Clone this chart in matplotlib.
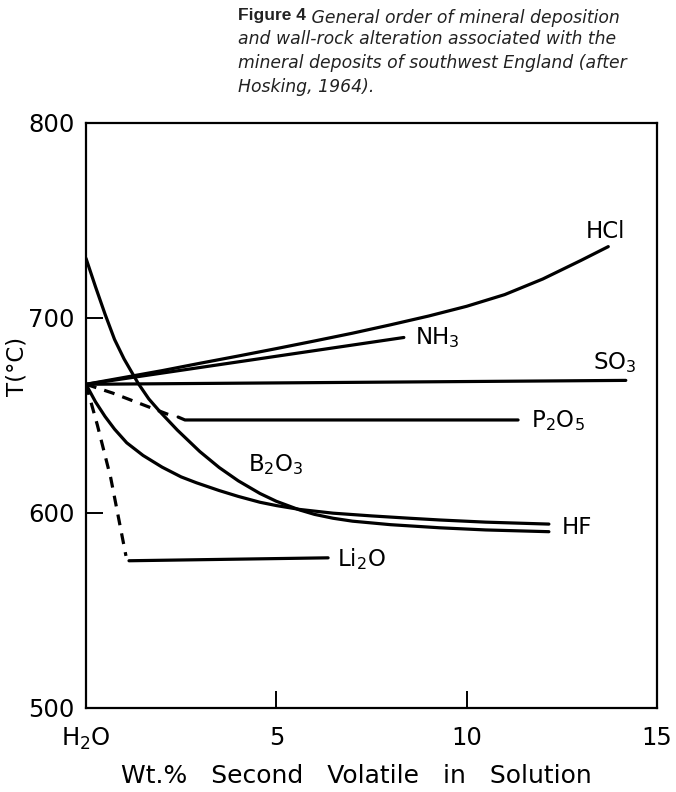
import matplotlib
matplotlib.use("Agg")
import matplotlib.pyplot as plt

plt.rcParams['font.family'] = ['DejaVu Sans']
plt.rcParams['mathtext.default'] = 'regular'

# ---- data ----
hcl_x = [0, 1, 2, 3, 4, 5, 6, 7, 8, 9, 10, 11, 12, 13, 13.72]
hcl_y = [666, 669.5, 673, 676.8, 680.5, 684.3, 688.2, 692.2, 696.5, 701, 706, 712, 720, 729.5, 736.6]

nh3_x = [0, 8.35]
nh3_y = [666, 690]

so3_x = [0, 14.18]
so3_y = [666, 668]

p2o5_dash_x = [0, 0.7, 1.5, 2.3]
p2o5_dash_y = [666, 661.5, 655.5, 649.5]
p2o5_x = [2.42, 2.6, 11.35]
p2o5_y = [649.2, 647.7, 647.7]

li2o_dash_x = [0, 0.3, 0.65, 1.05]
li2o_dash_y = [666, 645, 618, 578]
li2o_x = [1.13, 6.36]
li2o_y = [575.5, 577]

b2o3_x = [0, 0.25, 0.5, 0.75, 1.0, 1.37, 1.65, 1.94, 2.4, 2.99, 3.5, 4.0, 4.57,
          5.0, 5.62, 6.0, 6.49, 7.0, 8.0, 9.3, 10.5, 12.16]
b2o3_y = [730.6, 716, 702, 689, 679, 666.5, 658.5, 652, 642.5, 631.5, 623.3, 616.5, 610,
          606, 601.5, 599.3, 597.3, 595.8, 594, 592.4, 591.3, 590.4]

hf_x = [0, 0.25, 0.5, 0.75, 1.07, 1.5, 2.0, 2.5, 2.9, 3.5, 4.0, 4.57, 5.0, 5.62,
        6.49, 7.5, 8.5, 9.3, 10.5, 12.16]
hf_y = [666, 657, 649.5, 643, 636, 629.5, 623.5, 618.5, 615.5, 611.5, 608.5, 605.5, 603.8, 601.8,
        599.9, 598.5, 597.3, 596.4, 595.3, 594.3]

x_ticks = [0, 5, 10, 15]
x_ticklabels = ['H$_2$O', '5', '10', '15']
y_ticks = [500, 600, 700, 800]

caption_bold = "Figure 4"
caption_line1 = " General order of mineral deposition"
caption_lines = ["and wall-rock alteration associated with the",
                 "mineral deposits of southwest England (after",
                 "Hosking, 1964)."]

# ---- figure ----
fig = plt.figure(figsize=(6.76, 7.92), dpi=100)
ax = fig.add_axes([0.1272, 0.1061, 0.8447, 0.7386])

lw = 2.3
solid = dict(color='black', lw=lw, solid_capstyle='round', solid_joinstyle='round')
dashed = dict(color='black', lw=lw, ls=(0, (3.4, 2.6)))
ax.plot(hcl_x, hcl_y, **solid)
ax.plot(nh3_x, nh3_y, **solid)
ax.plot(so3_x, so3_y, **solid)
ax.plot(p2o5_dash_x, p2o5_dash_y, **dashed)
ax.plot(p2o5_x, p2o5_y, **solid)
ax.plot(li2o_dash_x, li2o_dash_y, **dashed)
ax.plot(li2o_x, li2o_y, **solid)
ax.plot(b2o3_x, b2o3_y, **solid)
ax.plot(hf_x, hf_y, **solid)

lab_fs = 16.5
ax.text(13.65, 738.5, 'HCl', fontsize=lab_fs, ha='center', va='bottom')
ax.text(8.65, 690, 'NH$_3$', fontsize=lab_fs, ha='left', va='center')
ax.text(13.32, 677, 'SO$_3$', fontsize=lab_fs, ha='left', va='center')
ax.text(11.7, 647.5, 'P$_2$O$_5$', fontsize=lab_fs, ha='left', va='center')
ax.text(5.0, 625, 'B$_2$O$_3$', fontsize=lab_fs, ha='center', va='center')
ax.text(12.5, 592.5, 'HF', fontsize=lab_fs, ha='left', va='center')
ax.text(6.6, 576.5, 'Li$_2$O', fontsize=lab_fs, ha='left', va='center')

ax.set_xlim(0, 15)
ax.set_ylim(500, 800)
ax.set_xticks(x_ticks)
ax.set_xticklabels(x_ticklabels)
ax.set_yticks(y_ticks)
ax.tick_params(direction='in', length=12, width=1.4, labelsize=17.5, pad=8,
               colors='black')
ax.tick_params(axis='x', pad=13)
for s in ax.spines.values():
    s.set_linewidth(1.6)

ax.set_xlabel('Wt.%   Second   Volatile   in   Solution', fontsize=18)
ax.xaxis.set_label_coords(0.473, -0.095)
ax.set_ylabel('T(°C)', fontsize=16.5)
ax.yaxis.set_label_coords(-0.10, 0.583)

cap_bold = dict(fontsize=12.5, family='Liberation Sans', color='#222222',
                va='baseline', ha='left', fontweight='bold')
cap_it = dict(fontsize=12.4, family='DejaVu Sans', color='#222222',
              va='baseline', ha='left', style='italic')
x0 = 238 / 676
base = [20, 44, 68, 92]
t1 = fig.text(x0, 1 - base[0] / 792, caption_bold, **cap_bold)
ax.annotate(caption_line1, xy=(1, 0), xycoords=t1, annotation_clip=False, **cap_it)
for line, b in zip(caption_lines, base[1:]):
    fig.text(x0, 1 - b / 792, line, **cap_it)

fig.savefig('out.png', dpi=100)
